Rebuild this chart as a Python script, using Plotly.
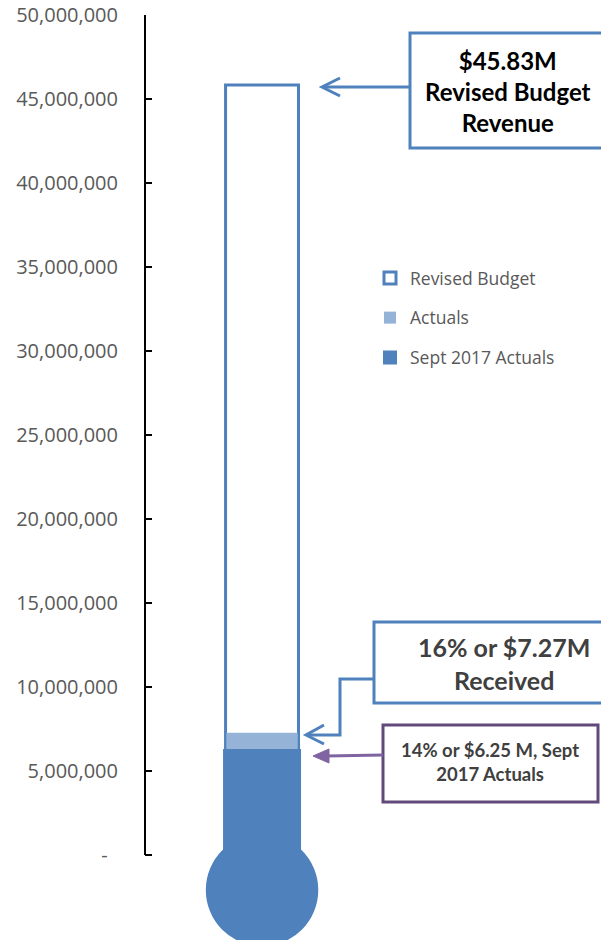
import plotly.graph_objects as go

# ---- data ----
series_names = ["Revised Budget", "Actuals", "Sept 2017 Actuals"]
series_values = [45830000, 7270000, 6250000]
tick_values = [0, 5000000, 10000000, 15000000, 20000000, 25000000,
               30000000, 35000000, 40000000, 45000000, 50000000]
tick_labels = ["-  ", "5,000,000", "10,000,000", "15,000,000", "20,000,000",
               "25,000,000", "30,000,000", "35,000,000", "40,000,000",
               "45,000,000", "50,000,000"]
box_texts = ["$45.83M<br>Revised Budget<br>Revenue",
             "16% or $7.27M<br>Received",
             "14% or $6.25 M, Sept<br>2017 Actuals"]

BLUE = "#4F81BD"
LIGHT = "#95B3D7"
PURPLE_B = "#604A7B"
PURPLE_A = "#8064A2"

W, H = 601, 940
AX_X, TOP_Y, BOT_Y = 145, 15, 940
L, R = AX_X, 0
T, B = TOP_Y, 0
PW, PH = W - L - R, H - T - B


def px(x):
    return (x - AX_X) / PW


def py(y):
    return 1 - (y - TOP_Y) / PH


fig = go.Figure()
fills = ["white", LIGHT, BLUE]
lines = [dict(color=BLUE, width=3), dict(color=LIGHT, width=0), dict(color=BLUE, width=2)]
widths = [0.96, 0.94, 1.0]
for i, name in enumerate(series_names):
    fig.add_trace(go.Bar(
        x=[0], y=[series_values[i]], name=name, width=widths[i],
        marker=dict(color=fills[i], line=lines[i]),
        legendgroup=name, hoverinfo="skip"))

shapes = []
shapes.append(dict(type="line", xref="paper", yref="y", x0=0, x1=0,
                   y0=0, y1=50000000, line=dict(color="black", width=2)))
shapes.append(dict(type="rect", xref="x", yref="y", x0=-0.5, x1=0.5,
                   y0=-2500000, y1=0, fillcolor=BLUE, line=dict(width=0),
                   layer="above"))
shapes.append(dict(type="circle", xref="x", yref="y", x0=-0.74, x1=0.74,
                   y0=-2080000 - 3350000, y1=-2080000 + 3350000,
                   fillcolor=BLUE, line=dict(width=0), layer="above"))


def box(x0, y0, x1, y1, color):
    return dict(type="rect", xref="paper", yref="paper",
                x0=px(x0), x1=px(x1), y0=py(y1), y1=py(y0),
                fillcolor="white", line=dict(color=color, width=3))

shapes.append(box(410, 33, 608, 148, BLUE))
shapes.append(box(374, 622, 608, 703, BLUE))
shapes.append(box(383, 725, 598, 802, PURPLE_B))


def path(points, color, width=3, fill=None):
    d = "M " + " L ".join(f"{px(a):.5f},{py(b):.5f}" for a, b in points)
    if fill:
        d += " Z"
    s = dict(type="path", xref="paper", yref="paper", path=d,
             line=dict(color=color, width=width))
    if fill:
        s["fillcolor"] = fill
    return s

shapes.append(path([(410, 87), (323, 87)], BLUE))
shapes.append(path([(340, 78), (322, 87), (340, 96)], BLUE))
shapes.append(path([(374, 679), (340, 679), (340, 735), (307, 735)], BLUE))
shapes.append(path([(324, 725), (306, 735), (324, 744)], BLUE))
shapes.append(path([(383, 755), (326, 756)], PURPLE_A))
shapes.append(path([(313, 756), (329, 749), (329, 763)], PURPLE_A, width=1, fill=PURPLE_A))

annotations = [
    dict(xref="paper", yref="paper", x=px(508), y=py(91), text=box_texts[0],
         showarrow=False, font=dict(family="Lato", size=24, color="black"),
         align="center", xanchor="center", yanchor="middle"),
    dict(xref="paper", yref="paper", x=px(504), y=py(663), text=box_texts[1],
         showarrow=False, font=dict(family="Lato", size=25, color="#404040"),
         align="center", xanchor="center", yanchor="middle"),
    dict(xref="paper", yref="paper", x=px(490), y=py(762), text=box_texts[2],
         showarrow=False, font=dict(family="Lato", size=18.5, color="#404040"),
         align="center", xanchor="center", yanchor="middle"),
]
for a in annotations:
    a["text"] = "<b>" + a["text"].replace("<br>", "</b><br><b>") + "</b>"

fig.update_layout(
    width=W, height=H,
    margin=dict(l=L, r=R, t=T, b=B, pad=0, autoexpand=False),
    paper_bgcolor="white", plot_bgcolor="white",
    barmode="overlay",
    showlegend=True,
    legend=dict(x=px(370), y=py(260), xanchor="left", yanchor="top",
                font=dict(family="Open Sans", size=17.5, color="#595959"),
                tracegroupgap=14, bgcolor="rgba(0,0,0,0)", traceorder="grouped",
                itemwidth=30),
    xaxis=dict(range=[-1.54, 4.46], visible=False, fixedrange=True,
               automargin=False),
    yaxis=dict(range=[-(BOT_Y - 855) / 16.8 * 1e6, 50000000],
               tickvals=tick_values, ticktext=tick_labels,
               ticks="inside", ticklen=7, tickwidth=2, tickcolor="black",
               showline=False, showgrid=False, zeroline=False,
               tickfont=dict(family="Open Sans", size=20, color="#595959"),
               ticklabelstandoff=26, ticklabeloverflow="allow",
               automargin=False),
    shapes=shapes,
    annotations=annotations,
)

fig.write_html("out.html",
               config={"displayModeBar": False},
               post_script="document.body.style.margin='0';"
                           "document.body.style.overflow='hidden';")
